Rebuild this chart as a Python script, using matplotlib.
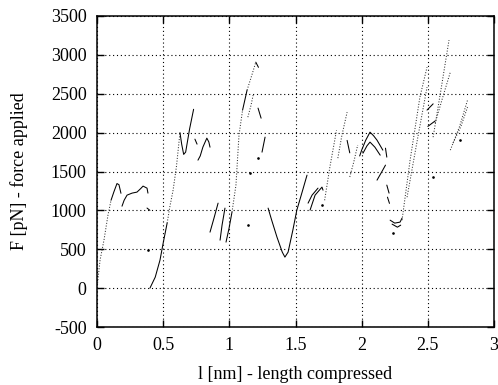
import matplotlib
matplotlib.use("Agg")
import matplotlib.pyplot as plt

# ---- data: curve pieces (x in nm, y in pN) ----
# solid pieces
s_start = ([0.106, 0.128, 0.151, 0.166, 0.181], [1130, 1240, 1345, 1330, 1220])
s_wave = ([0.189, 0.205, 0.227, 0.265, 0.302, 0.330, 0.348, 0.378, 0.385],
          [1054, 1130, 1196, 1222, 1235, 1280, 1312, 1286, 1222])
s_tick1 = ([0.378, 0.40], [1030, 1000])
s_rise2 = ([0.40, 0.44, 0.476, 0.50, 0.53], [0, 141, 360, 579, 836])
s_hook2 = ([0.627, 0.640, 0.655, 0.670, 0.700, 0.730], [2000, 1850, 1720, 1750, 2050, 2300])
s_tick2 = ([0.740, 0.756], [1916, 1852])
s_scurve = ([0.763, 0.780, 0.800, 0.830, 0.845, 0.854], [1646, 1700, 1813, 1929, 1880, 1813])
s_l1 = ([0.854, 0.884, 0.915], [720, 900, 1093])
s_l2 = ([0.930, 0.945, 0.967], [617, 810, 1029])
s_l3 = ([0.975, 0.998, 1.020], [592, 771, 977])
s_top1 = ([1.100, 1.134], [2289, 2546])
s_hook3 = ([1.217, 1.240], [2315, 2186])
s_tick3 = ([1.247, 1.270], [1749, 1942])
s_peak3 = ([1.200, 1.220], [2906, 2840])
s_valley = ([1.293, 1.320, 1.360, 1.400, 1.420, 1.444, 1.480, 1.510, 1.550, 1.587],
            [1029, 874, 656, 463, 399, 463, 746, 1003, 1235, 1453])
s_l4 = ([1.610, 1.648, 1.700, 1.708], [1003, 1196, 1299, 1260])
s_l5 = ([1.595, 1.625, 1.670], [1093, 1196, 1286])
s_tick4 = ([1.890, 1.910], [1900, 1740])
s_peak4a = ([1.985, 2.000, 2.030, 2.063, 2.090, 2.116, 2.160], [1700, 1775, 1900, 2006, 1960, 1903, 1775])
s_peak4b = ([2.010, 2.040, 2.063, 2.100, 2.140], [1736, 1830, 1878, 1813, 1710])
s_tick5 = ([2.116, 2.150, 2.180], [1389, 1490, 1582])
s_dash1 = ([2.180, 2.190], [1800, 1685])
s_dash2 = ([2.190, 2.207], [1325, 1222])
s_dash3 = ([2.195, 2.210], [1170, 1090])
s_loopa = ([2.215, 2.250, 2.290, 2.305], [874, 836, 849, 900])
s_loopb = ([2.230, 2.270, 2.295], [823, 784, 810])
s_sq1 = ([2.494, 2.540], [2290, 2370])
s_sq2 = ([2.500, 2.555], [2080, 2150])

# dotted pieces
d_start = ([0.0, 0.023, 0.053, 0.083, 0.106], [0, 360, 620, 940, 1130])
d_rise2 = ([0.53, 0.55, 0.575, 0.60, 0.627], [836, 1042, 1260, 1560, 2000])
d_rise3 = ([1.020, 1.050, 1.073, 1.100], [977, 1325, 1968, 2289])
d_top3 = ([1.134, 1.170, 1.200], [2546, 2739, 2906])
d_rise3b = ([1.140, 1.164, 1.180], [2199, 2353, 2482])
d_rise4a = ([1.720, 1.760, 1.810], [1130, 1560, 2030])
d_rise4b = ([1.820, 1.850, 1.890], [1672, 1960, 2263])
d_rise4c = ([1.910, 1.940, 1.970], [1430, 1620, 1840])
d_rise5a = ([2.305, 2.366, 2.440, 2.494], [874, 1646, 2456, 2842])
d_rise5b = ([2.343, 2.420, 2.494], [1170, 1900, 2585])
d_rise5c = ([2.540, 2.600, 2.660], [1942, 2560, 3190])
d_rise5d = ([2.555, 2.610, 2.670], [2122, 2440, 2778])
d_rise6a = ([2.670, 2.740, 2.800], [1775, 2080, 2418])
d_rise6b = ([2.690, 2.750, 2.800], [1865, 2080, 2328])

# stray single dots
dots_x = [0.385, 1.140, 1.156, 1.217, 1.700, 2.237, 2.540, 2.740]
dots_y = [489, 810, 1479, 1672, 1067, 707, 1427, 1903]

solid = [s_start, s_wave, s_tick1, s_rise2, s_hook2, s_tick2, s_scurve, s_l1, s_l2, s_l3,
         s_top1, s_hook3, s_tick3, s_peak3, s_valley, s_l4, s_l5, s_tick4, s_peak4a,
         s_peak4b, s_tick5, s_dash1, s_dash2, s_dash3, s_loopa, s_loopb, s_sq1, s_sq2]
dotted = [d_start, d_rise2, d_rise3, d_top3, d_rise3b, d_rise4a, d_rise4b, d_rise4c,
          d_rise5a, d_rise5b, d_rise5c, d_rise5d, d_rise6a, d_rise6b]

x_ticks = [0, 0.5, 1, 1.5, 2, 2.5, 3]
x_tick_labels = ["0", "0.5", "1", "1.5", "2", "2.5", "3"]
y_ticks = [-500, 0, 500, 1000, 1500, 2000, 2500, 3000, 3500]
y_tick_labels = ["-500", "0", "500", "1000", "1500", "2000", "2500", "3000", "3500"]

plt.rcParams['font.family'] = ['Liberation Serif', 'DejaVu Serif']
plt.rcParams['axes.unicode_minus'] = False

fig = plt.figure(figsize=(4.98, 3.85), dpi=100)
ax = fig.add_axes([97/498, 1 - 327/385, (494 - 97)/498, (327 - 16)/385])

for xs, ys in solid:
    ax.plot(xs, ys, color='black', lw=0.75, solid_capstyle='round')
for xs, ys in dotted:
    ax.plot(xs, ys, color='#333333', lw=0.75, ls=(0, (1, 1.6)))
ax.plot(dots_x, dots_y, ls='none', marker='o', ms=0.9, color='black')

ax.set_xlim(0, 3)
ax.set_ylim(-500, 3500)
ax.set_xticks(x_ticks)
ax.set_xticklabels(x_tick_labels)
ax.set_yticks(y_ticks)
ax.set_yticklabels(y_tick_labels)
ax.grid(True, color='black', ls=(0, (1, 2.5)), lw=0.8)
ax.tick_params(direction='in', length=5, width=1, top=True, right=True,
               labelsize=13, pad=7.5)
for sp in ax.spines.values():
    sp.set_linewidth(1.1)

ax.set_xlabel("l [nm] - length compressed", fontsize=13, labelpad=8)
ax.set_ylabel("F [pN] - force applied", fontsize=13, labelpad=16)

fig.savefig("out.png", dpi=100)
